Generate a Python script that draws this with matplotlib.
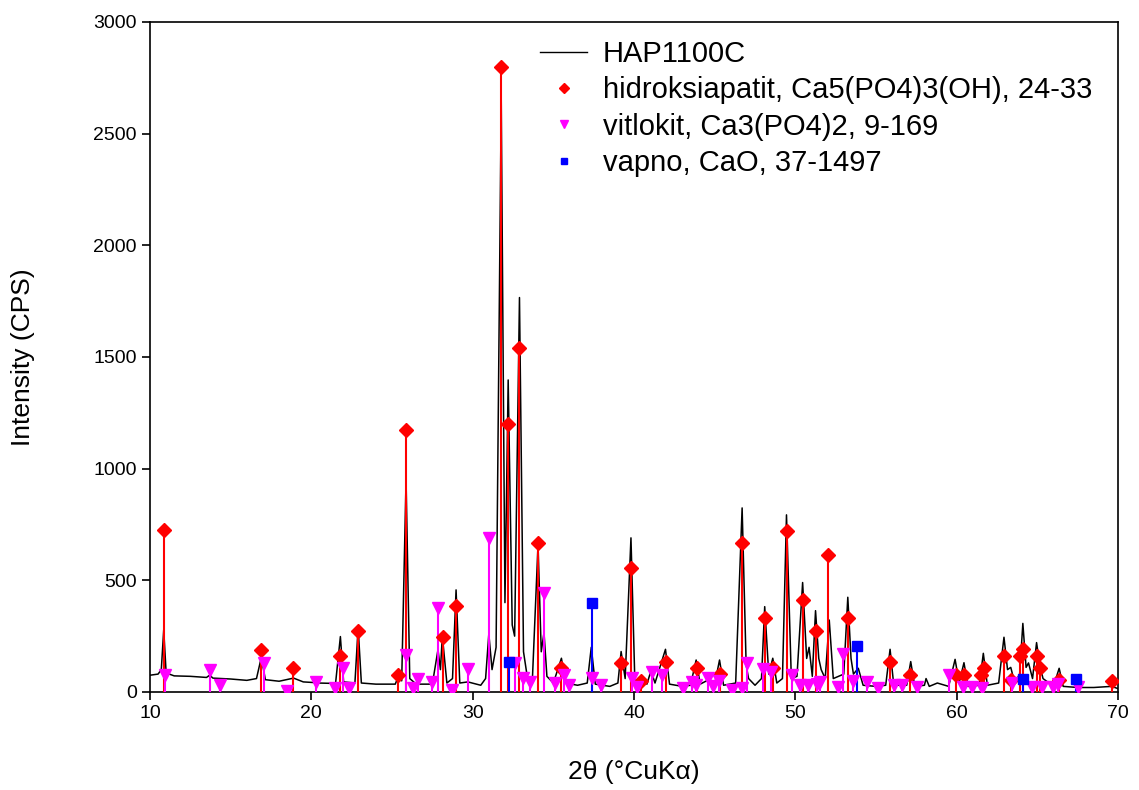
import matplotlib.pyplot as plt
from matplotlib.lines import Line2D

plt.rcParams['font.family'] = ['Liberation Sans', 'DejaVu Sans']

# measured pattern HAP1100C, traced vertices (2theta, CPS)
pattern_x = [10.0, 10.5, 10.7, 10.85, 11.0, 11.5, 12.5, 13.5, 13.7, 13.9, 15.0, 16.0, 16.6, 16.9, 17.15,
             18.0, 18.9, 19.5, 20.2, 20.3, 20.45, 21.5, 21.8, 22.0, 22.7, 22.9, 23.1, 24.0, 25.2, 25.4,
             25.6, 25.87, 26.1, 26.5, 27.5, 27.85, 28.0, 28.12, 28.4, 28.75, 28.97, 29.2, 29.7, 30.5, 30.8,
             31.0, 31.2, 31.45, 31.77, 32.0, 32.2, 32.45, 32.6, 32.9, 33.15, 33.4, 33.7, 34.05, 34.25, 34.42,
             34.6, 35.0, 35.5, 35.75, 36.5, 37.1, 37.35, 37.6, 38.5, 39.0, 39.2, 39.45, 39.81, 40.05, 40.4,
             40.8, 41.05, 41.3, 41.95, 42.2, 43.0, 43.5, 43.85, 44.1, 44.5, 45.0, 45.3, 45.55, 46.3, 46.7,
             46.95, 47.1, 47.5, 47.9, 48.1, 48.35, 48.6, 48.85, 49.2, 49.45, 49.75, 50.1, 50.45, 50.7, 50.85,
             51.05, 51.25, 51.45, 51.6, 51.85, 52.1, 52.35, 53.0, 53.25, 53.45, 53.6, 53.9, 54.2, 55.0, 55.6,
             55.87, 56.1, 56.9, 57.15, 57.4, 58.0, 58.1, 58.3, 58.8, 59.5, 59.9, 60.15, 60.45, 60.7, 61.4,
             61.65, 61.9, 62.6, 62.93, 63.15, 63.35, 63.6, 63.9, 64.1, 64.3, 64.45, 64.7, 64.95, 65.15, 65.35,
             66.0, 66.35, 66.6, 67.5, 68.5, 69.6, 70.0]
pattern_y = [75, 80, 100, 278, 85, 72, 70, 65, 75, 62, 58, 52, 60, 155, 55,
             48, 62, 45, 42, 55, 40, 38, 248, 45, 40, 288, 40, 35, 35, 70,
             50, 950, 60, 35, 35, 190, 100, 250, 40, 60, 457, 40, 45, 30, 60,
             260, 100, 200, 2650, 400, 1397, 300, 250, 1766, 180, 60, 55, 660, 180, 266,
             70, 40, 151, 40, 30, 40, 200, 35, 25, 40, 181, 60, 690, 50, 60,
             35, 95, 40, 191, 35, 25, 30, 143, 35, 50, 35, 143, 30, 40, 824,
             120, 60, 30, 60, 382, 80, 151, 40, 60, 793, 60, 70, 490, 150, 200,
             70, 364, 150, 100, 60, 322, 60, 80, 424, 150, 80, 106, 30, 25, 30,
             191, 30, 30, 136, 25, 30, 60, 25, 40, 25, 146, 40, 131, 25, 30,
             173, 30, 40, 245, 100, 110, 40, 80, 307, 110, 130, 60, 221, 120, 60,
             25, 106, 25, 20, 20, 25, 15]

# hidroksiapatit, 24-33
hap_x = [10.85, 16.9, 18.85, 21.8, 22.9, 25.4, 25.88, 28.15, 28.97, 31.77, 32.2, 32.9, 34.07, 35.5,
         39.2, 39.82, 40.45, 41.98, 43.88, 45.3, 46.7, 48.1, 48.62, 49.48, 50.45, 51.25, 52.05, 53.25,
         55.87, 57.12, 59.93, 60.43, 61.52, 61.68, 62.93, 63.38, 63.93, 64.12, 64.96, 65.17, 66.35, 69.62]
hap_y = [725, 190, 108, 162, 275, 76, 1175, 247, 387, 2800, 1200, 1540, 668, 107,
         131, 555, 50, 132, 106, 79, 668, 330, 108, 722, 412, 275, 612, 330,
         132, 76, 76, 76, 76, 106, 161, 52, 161, 191, 161, 106, 54, 49]

# vitlokit, 9-169
tcp_x = [10.93, 13.72, 14.34, 17.07, 18.51, 20.29, 21.47, 21.94, 22.31, 25.89, 26.27, 26.58, 27.49,
         27.85, 28.73, 29.73, 31.04, 32.62, 33.09, 33.57, 34.44, 35.1, 35.69, 36.0, 37.38, 37.94,
         39.85, 40.18, 41.14, 41.73, 43.04, 43.6, 43.83, 44.57, 44.9, 45.25, 46.08, 46.67, 46.98,
         48.01, 48.47, 49.8, 50.31, 50.77, 51.32, 51.53, 52.63, 52.97, 53.55, 54.42, 55.14, 56.11,
         56.59, 57.52, 59.55, 60.42, 60.93, 61.55, 63.41, 64.65, 65.27, 65.99, 66.3, 67.54]
tcp_y = [76, 100, 31, 128, 6, 46, 16, 106, 17, 166, 17, 59, 46,
         375, 8, 103, 690, 128, 63, 44, 445, 39, 76, 31, 63, 31,
         61, 22, 88, 76, 18, 46, 31, 61, 25, 48, 8, 18, 130,
         104, 91, 74, 33, 33, 36, 46, 22, 168, 48, 46, 16, 31,
         31, 24, 76, 21, 21, 16, 39, 21, 24, 24, 36, 21]

# vapno, CaO, 37-1497
cao_x = [32.25, 37.38, 53.85, 64.13, 67.4]
cao_y = [136, 397, 206, 57, 57]

fig = plt.figure(figsize=(11.39, 7.90), dpi=100)
ax = fig.add_axes([0.1317, 0.1241, 0.8499, 0.8481])

ax.plot(pattern_x, pattern_y, color='black', lw=1.1, zorder=2)

ax.vlines(hap_x, 0, hap_y, color='red', lw=1.5, zorder=3)
ax.plot(hap_x, hap_y, 'D', color='red', ms=7, zorder=4)
ax.vlines(tcp_x, 0, tcp_y, color='magenta', lw=1.5, zorder=3)
ax.plot(tcp_x, tcp_y, 'v', color='magenta', ms=9, zorder=4)
ax.vlines(cao_x, 0, cao_y, color='blue', lw=1.5, zorder=3)
ax.plot(cao_x, cao_y, 's', color='blue', ms=7, zorder=4)

ax.set_xlim(10, 70)
ax.set_ylim(0, 3000)
ax.set_xticks(range(10, 71, 10))
ax.set_yticks(range(0, 3001, 500))
ax.tick_params(labelsize=14, length=6, width=1.2)
for s in ax.spines.values():
    s.set_linewidth(1.2)
ax.set_xlabel('2θ (°CuKα)', fontsize=19, labelpad=27)
ax.set_ylabel('Intensity (CPS)', fontsize=19, labelpad=42)

handles = [
    Line2D([], [], color='black', lw=1.0),
    Line2D([], [], ls='', marker='D', color='red', ms=5),
    Line2D([], [], ls='', marker='v', color='magenta', ms=6),
    Line2D([], [], ls='', marker='s', color='blue', ms=5),
]
labels = ['HAP1100C', 'hidroksiapatit, Ca5(PO4)3(OH), 24-33',
          'vitlokit, Ca3(PO4)2, 9-169', 'vapno, CaO, 37-1497']
ax.legend(handles, labels, loc='upper left', bbox_to_anchor=(0.391, 0.99), frameon=False,
          fontsize=21, handlelength=1.6, handletextpad=0.55, labelspacing=0.28, borderaxespad=0)

fig.savefig('out.png', dpi=100)
